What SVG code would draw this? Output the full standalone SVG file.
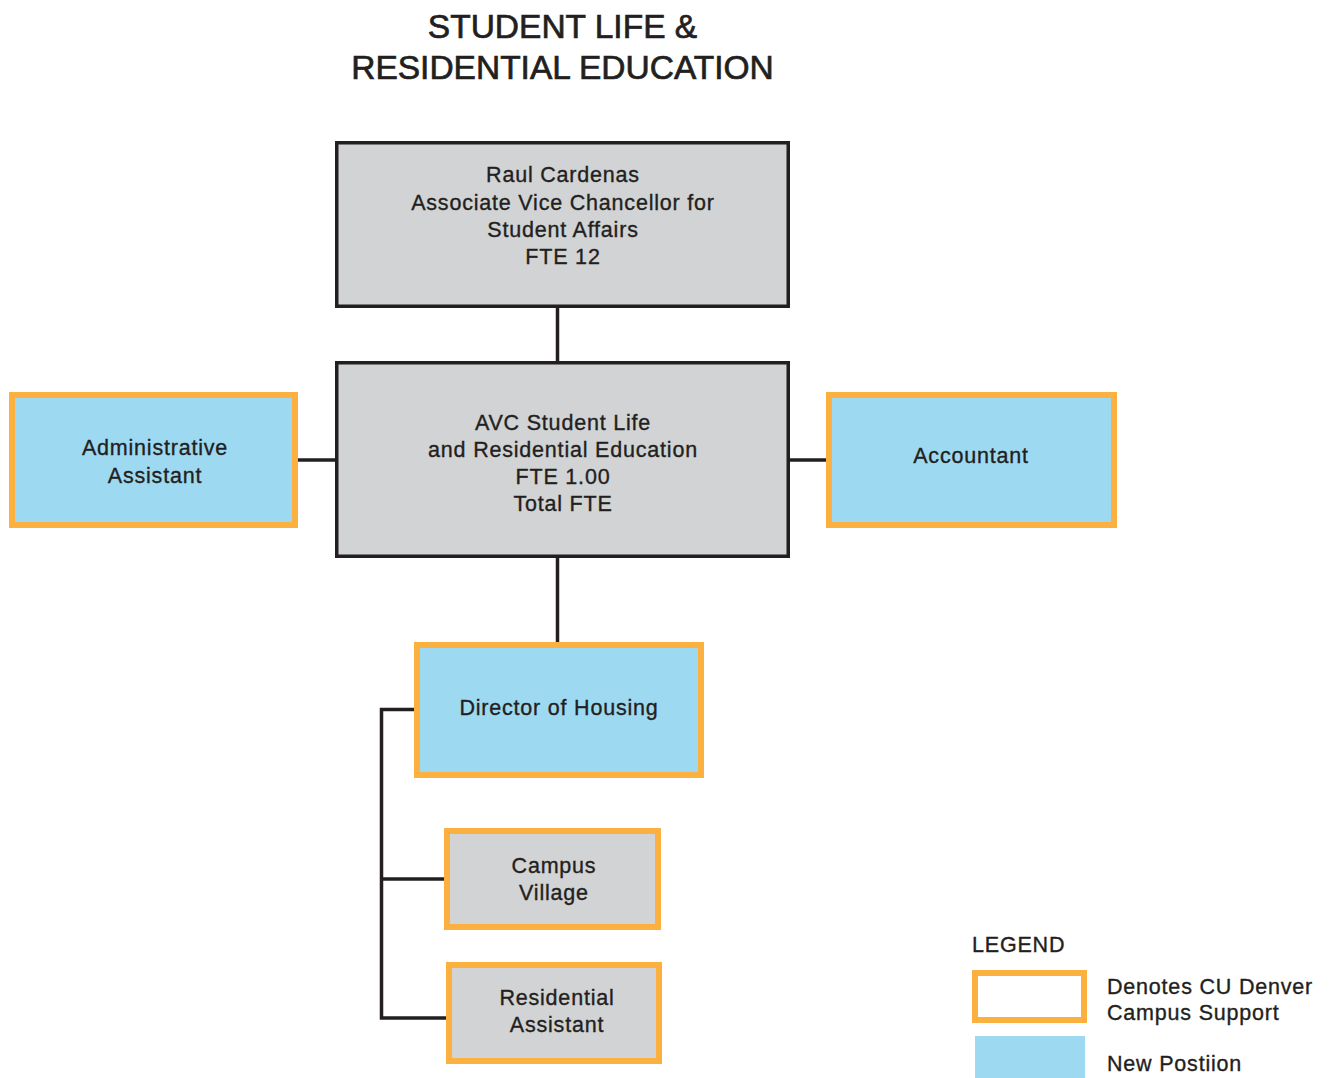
<svg xmlns="http://www.w3.org/2000/svg" width="1331" height="1078" viewBox="0 0 1331 1078">
<style>
text{font-family:"Liberation Sans",Arial,sans-serif;fill:#231F20;stroke:#231F20;stroke-width:0.35;}
.t{font-size:33.5px;text-anchor:middle;stroke-width:0.7;}
.b{font-size:21.5px;text-anchor:middle;letter-spacing:0.8px;}
.l{font-size:21.5px;letter-spacing:0.8px;}
.gray{fill:#D1D3D4;stroke:#231F20;stroke-width:3.5;}
.new{fill:#9DDAF2;stroke:#FBB040;stroke-width:6;}
.sup{fill:#D1D3D4;stroke:#FBB040;stroke-width:6;}
.conn{fill:none;stroke:#231F20;stroke-width:3.5;}
</style>
<rect width="1331" height="1078" fill="#fff"/>
<g id="title">
<text class="t" x="562.5" y="38">STUDENT LIFE &amp;</text>
<text class="t" x="562.5" y="79">RESIDENTIAL EDUCATION</text>
</g>
<g id="connectors">
<line class="conn" x1="557.5" y1="307" x2="557.5" y2="362"/>
<line class="conn" x1="557.5" y1="557" x2="557.5" y2="643"/>
<line class="conn" x1="297" y1="460" x2="336" y2="460"/>
<line class="conn" x1="789" y1="460" x2="827" y2="460"/>
<path class="conn" d="M415 709.5 H381.5 V1018 H447"/>
<line class="conn" x1="381.5" y1="879" x2="445" y2="879"/>
</g>
<g id="raul">
<rect class="gray" x="336.75" y="142.75" width="451.5" height="163.5"/>
<text class="b" x="563" y="182">Raul Cardenas</text>
<text class="b" x="563" y="209.5">Associate Vice Chancellor for</text>
<text class="b" x="563" y="237">Student Affairs</text>
<text class="b" x="563" y="264">FTE 12</text>
</g>
<g id="avc">
<rect class="gray" x="336.75" y="362.75" width="451.5" height="193.5"/>
<text class="b" x="563" y="430">AVC Student Life</text>
<text class="b" x="563" y="457">and Residential Education</text>
<text class="b" x="563" y="484">FTE 1.00</text>
<text class="b" x="563" y="511">Total FTE</text>
</g>
<g id="admin">
<rect class="new" x="12" y="395" width="283" height="130"/>
<text class="b" x="155" y="455">Administrative</text>
<text class="b" x="155" y="483">Assistant</text>
</g>
<g id="accountant">
<rect class="new" x="829" y="395" width="285" height="130"/>
<text class="b" x="971" y="463">Accountant</text>
</g>
<g id="director">
<rect class="new" x="417" y="645" width="284" height="130"/>
<text class="b" x="559" y="715">Director of Housing</text>
</g>
<g id="campus-village">
<rect class="sup" x="447" y="831" width="211" height="96"/>
<text class="b" x="554" y="873">Campus</text>
<text class="b" x="554" y="900">Village</text>
</g>
<g id="residential-assistant">
<rect class="sup" x="449" y="965" width="210" height="96"/>
<text class="b" x="557" y="1005">Residential</text>
<text class="b" x="557" y="1032">Assistant</text>
</g>
<g id="legend">
<text class="l" x="972" y="952">LEGEND</text>
<rect x="975" y="973" width="109" height="47" fill="#fff" stroke="#FBB040" stroke-width="6"/>
<text class="l" x="1107" y="994">Denotes CU Denver</text>
<text class="l" x="1107" y="1020">Campus Support</text>
<rect x="975" y="1036" width="110" height="42" fill="#9DDAF2"/>
<text class="l" x="1107" y="1071">New Postiion</text>
</g>
</svg>
